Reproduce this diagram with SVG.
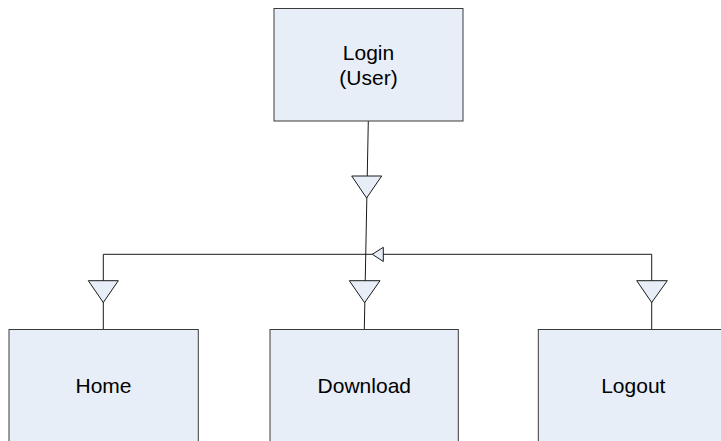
<svg xmlns="http://www.w3.org/2000/svg" width="721" height="441" viewBox="0 0 721 441">
<style>
.box{fill:#E8EEF8;stroke:#3a3a3a;stroke-width:1}
.lbl{font-family:"Liberation Sans",Arial,sans-serif;font-size:21px;fill:#000;text-anchor:middle}
.ln{fill:none;stroke:#1a1a1a;stroke-width:1}
.tri{fill:#E8EEF8;stroke:#1a1a1a;stroke-width:1;stroke-linejoin:miter}
</style>
<rect width="721" height="441" fill="#fff"/>
<g id="connectors">
<line class="ln" x1="368.3" y1="121" x2="364.3" y2="329.5"/>
<polyline class="ln" points="103.3,329.5 103.3,254.3 651.7,254.3 651.7,329.5"/>
<polygon class="tri" points="351.7,176 381.7,176 366.6,198"/>
<polygon class="tri" points="372.3,254.3 383.3,247.3 383.3,261.5"/>
<polygon class="tri" points="88.3,280.7 118.3,280.7 103.3,302.5"/>
<polygon class="tri" points="349.3,280.7 380,280.7 364.6,302.7"/>
<polygon class="tri" points="636.7,280.7 667.3,280.7 651.7,302.5"/>
</g>
<g id="login">
<rect class="box" x="274" y="8.5" width="189" height="112.5"/>
<text class="lbl" x="368.5" y="60">Login</text>
<text class="lbl" x="368.5" y="85">(User)</text>
</g>
<g id="home">
<rect class="box" x="9" y="329.5" width="189.3" height="120"/>
<text class="lbl" x="103.5" y="393">Home</text>
</g>
<g id="download">
<rect class="box" x="270" y="329.5" width="188.3" height="120"/>
<text class="lbl" x="364.3" y="393">Download</text>
</g>
<g id="logout">
<rect class="box" x="538.3" y="329.5" width="190" height="120"/>
<text class="lbl" x="633.3" y="393">Logout</text>
</g>
</svg>
